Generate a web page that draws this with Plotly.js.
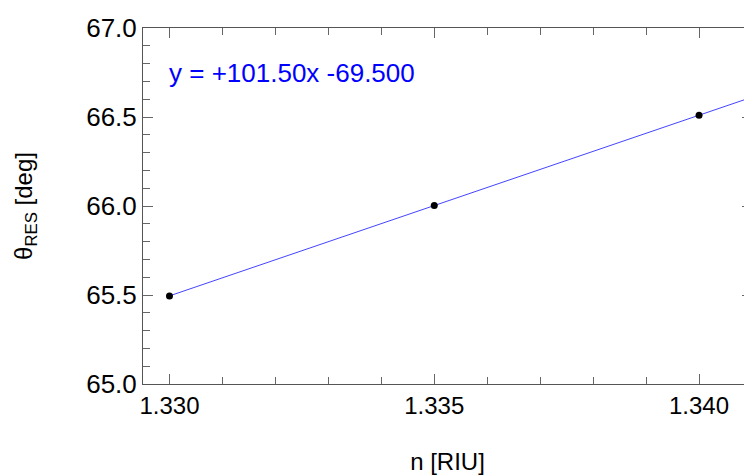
<!DOCTYPE html>
<html><head><meta charset="utf-8">
<script src="https://cdn.plot.ly/plotly-3.0.1.min.js"></script>
<style>html,body{margin:0;padding:0;overflow:hidden;background:#fff;width:744px;height:475px}#chart{width:752px;height:475px}</style>
</head><body><div id="chart"></div>
<script>
const nValues = [1.330, 1.335, 1.340];
const thetaValues = [65.495, 66.0025, 66.51];
const fitX = [1.330, 1.341];
const fitY = [65.495, 66.6115];
const fitLabel = 'y = +101.50x -69.500';
const xTitle = 'n [RIU]';
const yTitle = 'θ<sub>RES</sub> [deg]';

const font = {family: 'Arial, Liberation Sans, sans-serif', size: 24, color: '#000'};
const yTickFont = {family: 'Arial, Liberation Sans, sans-serif', size: 26, color: '#000'};
const axisCommon = {
  ticks: 'inside', ticklen: 10, tickwidth: 1, tickcolor: '#666',
  showline: true, linecolor: '#555', linewidth: 1, mirror: 'ticks',
  showgrid: false, zeroline: false, tickfont: font
};
Plotly.newPlot('chart', [
  {x: fitX, y: fitY, mode: 'lines', line: {color: '#4444ff', width: 1}, hoverinfo: 'skip'},
  {x: nValues, y: thetaValues, mode: 'markers', marker: {color: '#000', size: 7}}
], {
  width: 752, height: 475,
  margin: {l: 143, r: 0, t: 28, b: 91},
  showlegend: false,
  paper_bgcolor: '#fff', plot_bgcolor: '#fff',
  font: font,
  xaxis: Object.assign({}, axisCommon, {
    range: [1.3295, 1.341], dtick: 0.005, tick0: 1.330, tickformat: '.3f',
    minor: {dtick: 0.001, ticklen: 7, tickcolor: '#666', ticks: 'inside'},
    title: {text: xTitle, font: font, standoff: 36}
  }),
  yaxis: Object.assign({}, axisCommon, {
    range: [65.0, 67.0], dtick: 0.5, tickformat: '.1f', tickfont: yTickFont,
    minor: {dtick: 0.1, ticklen: 7, tickcolor: '#666', ticks: 'inside'},
    title: {text: yTitle, font: font, standoff: 46}
  }),
  annotations: [{
    text: fitLabel, xref: 'paper', yref: 'paper', x: 0.04, y: 0.875,
    xanchor: 'left', yanchor: 'middle', showarrow: false,
    font: {family: 'Arial, Liberation Sans, sans-serif', size: 26, color: '#0000ff'}
  }]
}, {staticPlot: true});
</script></body></html>
